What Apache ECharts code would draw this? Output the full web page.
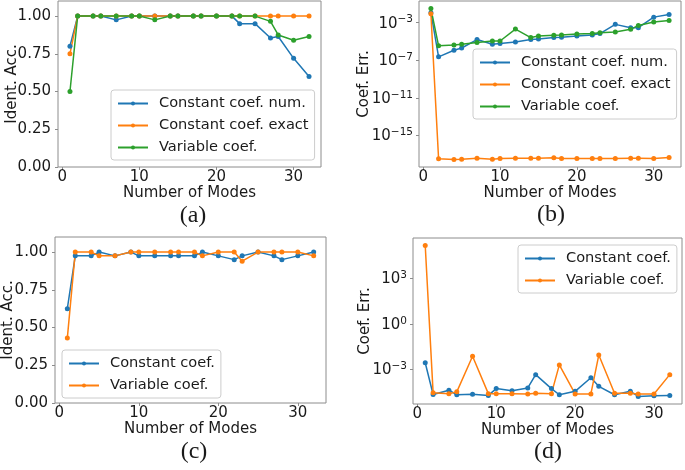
<!DOCTYPE html>
<html><head><meta charset="utf-8">
<script src="https://cdn.jsdelivr.net/npm/echarts@6/dist/echarts.min.js"></script>
<style>html,body{margin:0;padding:0;background:#fff}#c{width:685px;height:470px}</style>
</head><body><div id="c"></div>
<script>
// ---------- data ----------
const modes = [1,2,4,5,7,9,10,12,14,15,17,18,20,22,23,25,27,28,30,32];

// (a) identification accuracy
const accNum   = [0.80,1,1,1,0.975,1,1,1,1,1,1,1,1,1,0.95,0.95,0.855,0.865,0.72,0.60];
const accExact = [0.75,1,1,1,1,1,1,1,1,1,1,1,1,1,1,1,1,1,1,1];
const accVar   = [0.50,1,1,1,1,1,1,0.975,1,1,1,1,1,1,1,1,0.965,0.875,0.84,0.865];

// (b) coefficient error
const errNum   = [1.15e-2,2.3e-7,1.17e-6,2.0e-6,1.6e-5,5.0e-6,6.0e-6,8.9e-6,1.6e-5,1.86e-5,2.6e-5,2.75e-5,3.8e-5,4.9e-5,6.9e-5,6.6e-4,2.95e-4,2.95e-4,3.9e-3,7.6e-3];
const errExact = [8.9e-3,3.2e-18,2.7e-18,2.9e-18,3.7e-18,2.9e-18,3.4e-18,3.7e-18,3.7e-18,3.7e-18,4.1e-18,3.4e-18,3.4e-18,3.4e-18,3.4e-18,3.4e-18,3.7e-18,3.7e-18,3.4e-18,4.4e-18];
const errVar   = [3.2e-2,3.4e-6,4.3e-6,5.0e-6,7.6e-6,1.12e-5,1.12e-5,2.1e-4,2.6e-5,3.8e-5,4.6e-5,4.9e-5,6.3e-5,6.9e-5,8.7e-5,1.02e-4,1.95e-4,5.1e-4,1.15e-3,1.74e-3];

// (c) identification accuracy
const idConst = [0.625,0.975,0.975,1,0.975,1,0.975,0.975,0.975,0.975,0.975,1,0.975,0.95,0.975,1,0.975,0.95,0.975,1];
const idVar   = [0.43,1,1,0.975,0.975,1,1,1,1,1,1,0.975,1,1,0.94,1,1,1,1,0.975];

// (d) coefficient error
const ceConst = [2.8e-3,2.3e-5,4.4e-5,2.2e-5,2.4e-5,2.0e-5,5.6e-5,4.0e-5,6.2e-5,4.6e-4,5.6e-5,2.2e-5,3.7e-5,2.9e-4,7.9e-5,2.2e-5,3.7e-5,1.7e-5,1.9e-5,1.95e-5];
const ceVar   = [1.38e5,2.95e-5,2.6e-5,3.4e-5,7.4e-3,2.6e-5,2.6e-5,2.6e-5,2.5e-5,2.75e-5,2.6e-5,2.0e-3,2.5e-5,2.5e-5,8.9e-3,2.75e-5,2.75e-5,2.5e-5,2.5e-5,4.6e-4];

// tick labels
const xTicks   = [0,10,20,30];
const accTicks = [0,0.25,0.5,0.75,1.0];
const logTicksB = [1e-15,1e-11,1e-7,1e-3];
const logTicksD = [1e-3,1e0,1e3];

const names = {
  num: 'Constant coef. num.', exact: 'Constant coef. exact', vari: 'Variable coef.', cons: 'Constant coef.'
};
const panelLabels = ['(a)','(b)','(c)','(d)'];

// ---------- style ----------
const C = {blue:'#1f77b4', orange:'#ff7f0e', green:'#2ca02c'};
const FONT = 'DejaVu Sans';
const FS = 15;
const TXT = '#1a1a1a';
const SPINE = '#8c8c8c';

const grids = [
  {left:58, top:1,   width:263, height:166},
  {left:419, top:1,  width:262, height:166},
  {left:54, top:237, width:272, height:166},
  {left:413, top:238, width:269, height:166}
].map(g => Object.assign({show:true, borderColor:SPINE, borderWidth:1, backgroundColor:'transparent'}, g));

const lg = v => Math.log10(v);
function padRange(arr){ const lo=Math.min(...arr), hi=Math.max(...arr), p=0.05*(hi-lo); return [lo-p, hi+p]; }
const xr = padRange(modes);
const rb = padRange([...errNum,...errExact,...errVar].map(lg));
const rd = padRange([...ceConst,...ceVar].map(lg));

function xAxis(i){
  return {type:'value', gridIndex:i, min:xr[0], max:xr[1],
    name:'Number of Modes', nameLocation:'middle', nameGap:19, nameMoveOverlap:false,
    nameTextStyle:{fontSize:FS, fontFamily:FONT, color:TXT},
    axisLine:{show:false, onZero:false},
    axisTick:{show:true, length:3, lineStyle:{color:SPINE}, customValues:xTicks},
    axisLabel:{customValues:xTicks, margin:3, fontSize:FS, fontFamily:FONT, color:TXT},
    splitLine:{show:false}};
}
function accAxis(i, gap){
  return {type:'value', gridIndex:i, min:0, max:1.1,
    name:'Ident. Acc.', nameLocation:'middle', nameGap:gap, nameMoveOverlap:false,
    nameTextStyle:{fontSize:FS, fontFamily:FONT, color:TXT},
    axisLine:{show:false, onZero:false},
    axisTick:{show:true, length:3, lineStyle:{color:SPINE}, customValues:accTicks},
    axisLabel:{customValues:accTicks, margin:7, fontSize:FS, fontFamily:FONT, color:TXT, formatter:v=>v.toFixed(2)},
    splitLine:{show:false}};
}
function logAxis(i, range, ticks, gap){
  const tv = ticks.map(lg);
  return {type:'value', gridIndex:i, min:range[0], max:range[1],
    name:'Coef. Err.', nameLocation:'middle', nameGap:gap, nameMoveOverlap:false,
    nameTextStyle:{fontSize:FS, fontFamily:FONT, color:TXT},
    axisLine:{show:false, onZero:false},
    axisTick:{show:true, length:3, lineStyle:{color:SPINE}, customValues:tv},
    axisLabel:{customValues:tv, margin:6, color:TXT,
      formatter:v=>{const e=Math.round(v); return '{b|10}{s|'+(e<0?'\u2212':'')+Math.abs(e)+'}';},
      rich:{b:{fontSize:FS, lineHeight:17, verticalAlign:'bottom', fontFamily:FONT, color:TXT},
            s:{fontSize:10.5, lineHeight:11, verticalAlign:'top', fontFamily:FONT, color:TXT}}},
    splitLine:{show:false}};
}
function ser(name, vals, color, i, log){
  return {type:'line', name, xAxisIndex:i, yAxisIndex:i,
    data: modes.map((m,k)=>[m, log ? lg(vals[k]) : vals[k]]),
    symbol:'circle', symbolSize:5, showSymbol:true,
    itemStyle:{color}, lineStyle:{color, width:1.5},
    emphasis:{disabled:true}, silent:true};
}
function legend(items, left, top){
  return {orient:'vertical', left, top, data:items, selectedMode:false,
    itemWidth:30, itemHeight:5, itemGap:7, padding:[6,6,5,6],
    borderColor:'#cccccc', borderWidth:1, borderRadius:3, backgroundColor:'rgba(255,255,255,0.85)',
    textStyle:{fontSize:14.6, fontFamily:FONT, color:TXT, padding:[0,0,0,6]}};
}

const labelPos = [[193,216],[551,215],[194,452],[548,452]];

const option = {
  animation:false,
  grid: grids,
  xAxis: [0,1,2,3].map(xAxis),
  yAxis: [accAxis(0,38), logAxis(1, rb, logTicksB, 47), accAxis(2,39), logAxis(3, rd, logTicksD, 40)],
  legend: [
    legend([names.num, names.exact, names.vari], 111, 90),
    legend([names.num, names.exact, names.vari], 473, 49),
    legend([{name:names.cons, itemStyle:{color:C.blue}, lineStyle:{color:C.blue}},
            {name:names.vari, itemStyle:{color:C.orange}, lineStyle:{color:C.orange}}], 62, 350),
    legend([{name:names.cons, itemStyle:{color:C.blue}, lineStyle:{color:C.blue}},
            {name:names.vari, itemStyle:{color:C.orange}, lineStyle:{color:C.orange}}], 518, 245)
  ],
  series: [
    ser(names.num, accNum, C.blue, 0, false),
    ser(names.exact, accExact, C.orange, 0, false),
    ser(names.vari, accVar, C.green, 0, false),
    ser(names.num, errNum, C.blue, 1, true),
    ser(names.exact, errExact, C.orange, 1, true),
    ser(names.vari, errVar, C.green, 1, true),
    ser(names.cons, idConst, C.blue, 2, false),
    ser(names.vari, idVar, C.orange, 2, false),
    ser(names.cons, ceConst, C.blue, 3, true),
    ser(names.vari, ceVar, C.orange, 3, true)
  ],
  graphic: panelLabels.map((t,k)=>({type:'text', x:labelPos[k][0], y:labelPos[k][1],
    style:{text:t, font:'24px "Liberation Serif", serif', fill:TXT, textAlign:'center', textVerticalAlign:'middle'}}))
};
const chart = echarts.init(document.getElementById('c'));
chart.setOption(option);
</script></body></html>
